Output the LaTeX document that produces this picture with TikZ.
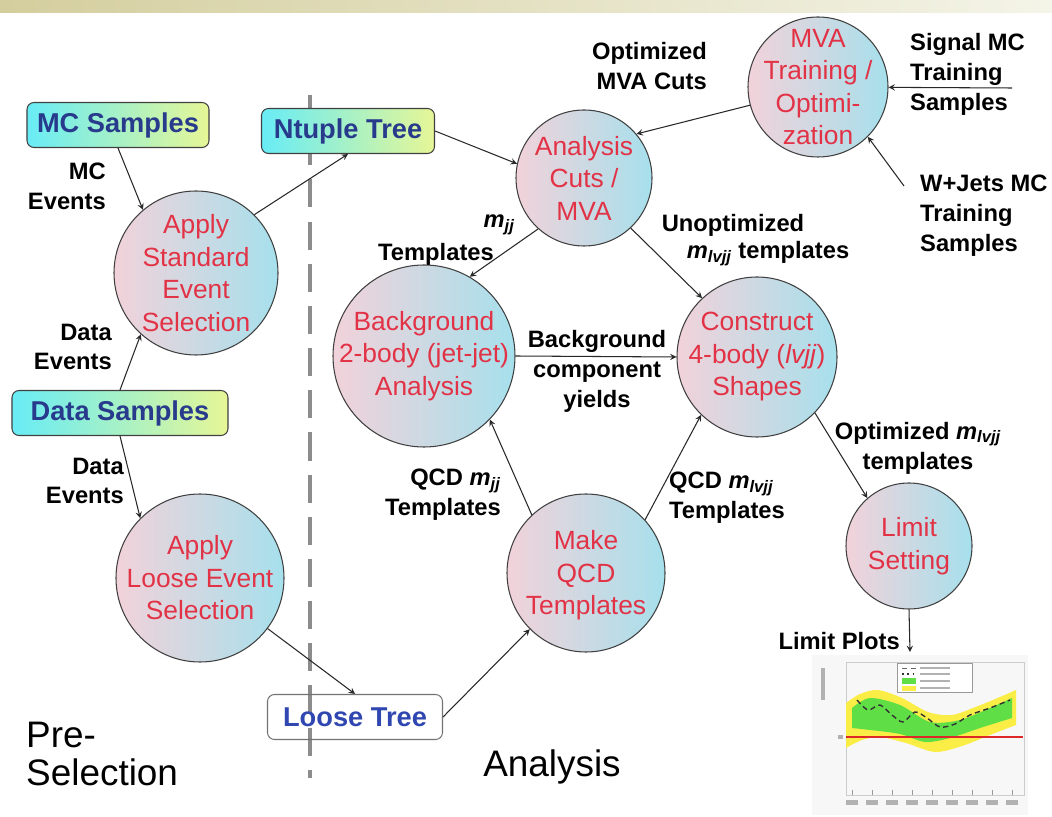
\documentclass[tikz,border=0pt]{standalone}
\usepackage{fontspec}
\setmainfont{Liberation Sans}
\usetikzlibrary{arrows,positioning,calc}

\definecolor{procleft}{RGB}{242,210,218}
\definecolor{procright}{RGB}{166,224,236}
\definecolor{proctext}{RGB}{226,50,70}
\definecolor{boxleft}{RGB}{104,236,246}
\definecolor{boxright}{RGB}{230,246,150}
\definecolor{boxtext}{RGB}{40,58,140}
\definecolor{treetext}{RGB}{48,70,176}
\definecolor{barleft}{RGB}{212,206,158}
\definecolor{barright}{RGB}{244,244,232}
\definecolor{edgecol}{RGB}{40,40,40}
\definecolor{plotyellow}{RGB}{250,238,70}
\definecolor{plotgreen}{RGB}{96,222,70}
\definecolor{plotred}{RGB}{222,40,40}

\newcommand{\mjj}{{\itshape m}\textsubscript{\itshape jj}}
\newcommand{\mlvjj}{{\itshape m}\textsubscript{\itshape lvjj}}

\begin{document}
\begin{tikzpicture}[
    x=0.2mm, y=-0.2mm,
    proc/.style={circle, draw=black!75, line width=0.6pt, left color=procleft, right color=procright, inner sep=0pt},
    proctxt/.style={text=proctext, align=center, font=\fontsize{15}{18.5}\selectfont},
    sample/.style={rounded corners=4pt, draw=black!75, line width=0.6pt, left color=boxleft, right color=boxright, text=boxtext, font=\bfseries\fontsize{15.5}{18}\selectfont, minimum height=9mm},
    tree/.style={rounded corners=4pt, draw=black!55, line width=0.6pt, text=treetext, font=\bfseries\fontsize{15.5}{18}\selectfont, minimum height=9mm},
    flow/.style={->, >=stealth, edgecol, line width=0.6pt},
    note/.style={font=\bfseries\fontsize{13.5}{17}\selectfont},
    stage/.style={font=\fontsize{21}{22}\selectfont, align=left}
]
    \useasboundingbox (0,0) rectangle (1052,817);

    % Header bar
    \shade[left color=barleft, right color=barright] (0,0) rectangle (1052,13);

    % Pre-selection / analysis divider
    \draw[black!45, line width=2.2pt, dash pattern=on 16pt off 8pt] (310,95) -- (310,778);

    % Sample and tree boxes
    \node[sample, minimum width=36.4mm] (mcs) at (118,125) {MC Samples};
    \node[sample, minimum width=34.6mm] (ntuple) at (348,131) {Ntuple Tree};
    \node[sample, minimum width=43.2mm] (datas) at (120,413) {Data Samples};
    \node[tree, minimum width=35mm] (loose) at (355,717) {Loose Tree};

    % Processing steps
    \node[proc, minimum size=32.8mm] (apstd) at (196,273) {};
    \node[proctxt] at (apstd) {Apply\\Standard\\Event\\Selection};
    \node[proc, minimum size=33.6mm] (aploose) at (200,578) {};
    \node[proctxt] at (aploose) {Apply\\Loose Event\\Selection};
    \node[proc, minimum size=27.2mm] (cuts) at (584,178) {};
    \node[proctxt] at (cuts) {Analysis\\Cuts /\\MVA};
    \node[proc, minimum size=28mm] (mva) at (818,87) {};
    \node[proctxt] at (mva) {MVA\\Training /\\Optimi-\\zation};
    \node[proc, minimum size=36.4mm] (bg) at (424,356) {};
    \node[proctxt] at (bg) {Background\\2-body (jet-jet)\\Analysis};
    \node[proc, minimum size=32mm] (cons) at (757,357) {};
    \node[proctxt] at (cons) {Construct\\4-body (\textit{lvjj})\\Shapes};
    \node[proc, minimum size=31.6mm] (qcd) at (586,573) {};
    \node[proctxt] at ([yshift=-1.5]qcd.center) {Make\\QCD\\Templates};
    \node[proc, minimum size=25.2mm] (lim) at (909,546) {};
    \node[proctxt] at (lim) {Limit\\Setting};

    % Free ends of the input arrows
    \coordinate (sigin) at (1012,88);
    \coordinate (wjin) at (904,186);
    \coordinate (plotin) at (910,652);

    % Connections
    \draw[flow] (mcs.south) -- (apstd.130);
    \draw[flow] (datas.north) -- (apstd.228);
    \draw[flow] (datas.south) -- (aploose.135);
    \draw[flow] (apstd.45) -- (ntuple.south);
    \draw[flow] (aploose) -- (loose.north);
    \draw[flow] (ntuple.east) -- (cuts.168);
    \draw[flow] (mva.195) -- (cuts.40);
    \draw[flow] (sigin) -- (mva);
    \draw[flow] (wjin) -- (mva.-45);
    \draw[flow] (cuts.228) -- (bg.60);
    \draw[flow] (cuts.-47) -- (cons.133);
    \draw[flow] (bg.east) -- (cons.west);
    \draw[flow] (qcd.133) -- (bg.-44);
    \draw[flow] (qcd.42) -- (cons.226);
    \draw[flow] (loose.east) -- (qcd.225);
    \draw[flow] (cons.-44) -- (lim.131);
    \draw[flow] (lim.south) -- (plotin);

    % Edge labels
    \node[note, align=right, anchor=east] (mcev) at (112,186) {MC\\Events};
    \node[note, align=right, anchor=east] (dataev1) at (118,347) {Data\\Events};
    \node[note, align=right, anchor=east] (dataev2) at (130,481) {Data\\Events};
    \node[note, align=right, anchor=east] (optcuts) at (713,66) {Optimized\\MVA Cuts};
    \node[note, align=left, anchor=west] (sigmc) at (904,74) {Signal MC\\Training\\Samples};
    \node[note, align=left, anchor=west] (wjmc) at (914,216) {W+Jets MC\\Training\\Samples};
    \node[note, anchor=east] (mjjlbl) at (521,225) {\mjj};
    \node[note, anchor=east] (mjjtmp) at (500,254) {Templates};
    \node[note] (unopt) at (733,225) {Unoptimized};
    \node[note] (unopttmp) at (768,254) {\mlvjj\ templates};
    \node[note, align=center] (yields) at (597,371) {Background\\component\\yields};
    \node[note, align=right, anchor=east] (qcdjj) at (507,495) {QCD \mjj\\Templates};
    \node[note, align=left, anchor=west] (qcdlvjj) at (663,498) {QCD \mlvjj\\Templates};
    \node[note, align=center] (opttmp) at (918,448) {Optimized \mlvjj\\templates};
    \node[note, anchor=east] (limplots) at (906,641) {Limit Plots};

    % Stage titles
    \node[stage, anchor=west] (presel) at (20,754) {Pre-\\Selection};
    \node[stage] (ana) at (552,767) {Analysis};

    % Limit plot
    \fill[black!3] (812,655) rectangle (1028,815);
    \draw[black!20, line width=0.4pt] (846,662) rectangle (1024,795);
    \fill[plotyellow] plot[smooth] coordinates {(846,703) (860,694) (878,690) (902,698) (928,712) (952,715) (978,706) (1000,697) (1016,690)}
        -- plot[smooth] coordinates {(1016,725) (990,735) (962,746) (935,752) (906,743) (880,737) (862,740) (846,748)} -- cycle;
    \fill[plotgreen] plot[smooth] coordinates {(852,708) (870,698) (900,705) (930,722) (960,720) (990,708) (1012,698)}
        -- plot[smooth] coordinates {(1012,718) (980,728) (950,738) (925,742) (900,734) (870,730) (852,728)} -- cycle;
    \draw[black!80, densely dashed, line width=0.8pt] plot[smooth] coordinates {(857,700) (868,710) (880,705) (892,715) (903,722) (915,712) (927,718) (940,727) (955,724) (970,715) (990,708) (1010,700)};
    \draw[plotred, line width=1.5pt] (846,737) -- (1023,737);
    \draw[black!40, line width=0.4pt, fill=white] (897,663) rectangle (972,692);
    \draw[black!60, densely dashed] (902,668) -- (916,668);
    \draw[black!80, line width=1pt, dotted] (902,674) -- (916,674);
    \fill[plotgreen] (902,678) rectangle (916,684);
    \fill[plotyellow] (902,686) rectangle (916,691);
    \foreach \ly in {668,674,681,688}
        \draw[black!30, line width=0.8pt] (920,\ly) -- (950,\ly);
    \foreach \tx in {852,872,...,1012}
    {
        \draw[black!40, line width=0.4pt] (\tx,795) -- (\tx,790);
        \fill[black!30] (\tx-6,800) rectangle (\tx+6,805);
    }
    \fill[black!30] (821,668) rectangle (825,700);
    \fill[black!30] (838,735) rectangle (843,739);
\end{tikzpicture}
\end{document}
